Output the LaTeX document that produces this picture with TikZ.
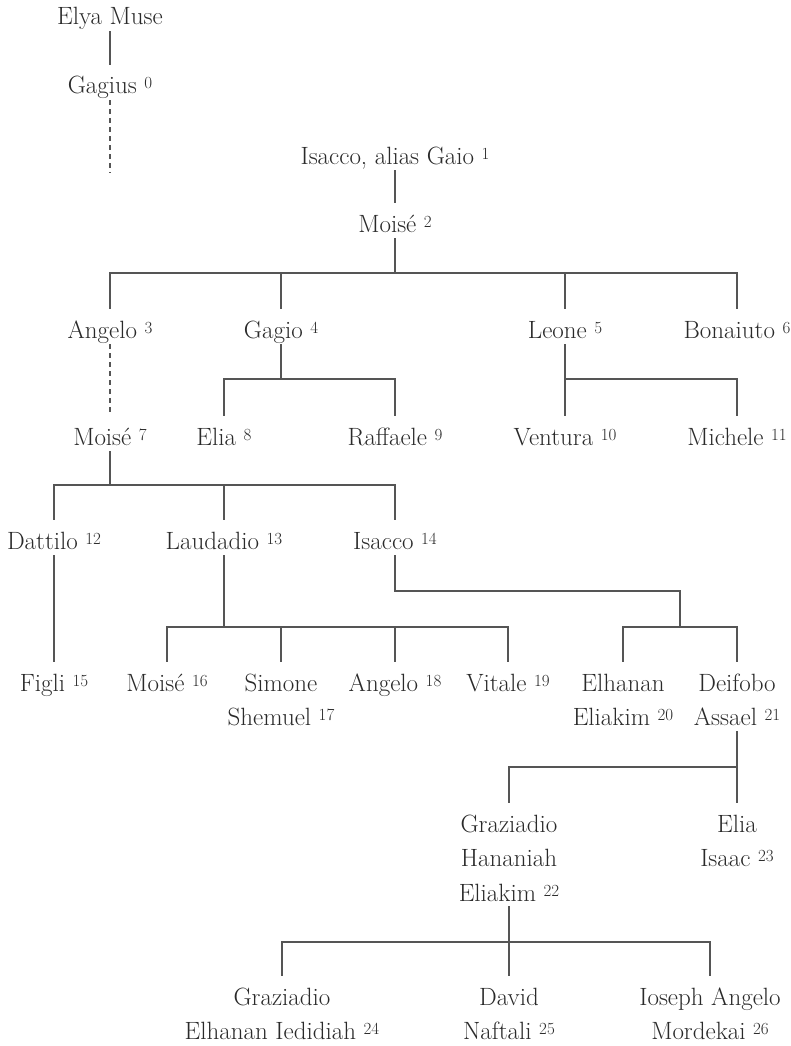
\documentclass[tikz,border=0pt]{standalone}
\usetikzlibrary{calc}
\definecolor{txt}{HTML}{2A2A2A}
\definecolor{ln}{HTML}{555555}
\newcommand\supn[1]{\ \raisebox{5pt}{\fontsize{17}{17}\selectfont #1}}
\newcommand\twol[2]{\begin{tabular}[t]{@{}c@{}}#1\\#2\end{tabular}}
\newcommand\threel[3]{\begin{tabular}[t]{@{}c@{}}#1\\#2\\#3\end{tabular}}
\tikzset{
  pn/.style={anchor=base, inner sep=0pt, text height=29pt, text depth=6pt,
    font=\fontsize{25}{34.5}\selectfont, text=txt},
  pn2/.style={pn, text depth=40pt},
  pn3/.style={pn, text depth=74pt},
  conn/.style={draw=ln, line width=1.1pt},
  dconn/.style={conn, dash pattern=on 5pt off 4pt},
}
\begin{document}
\begin{tikzpicture}[x=1pt,y=-1pt]
\useasboundingbox (0,0) rectangle (791,1046);
% generation nodes
\node[pn] (e0) at (110,25) {Elya Muse};
\node[pn] (g0) at (110,94) {Gagius\supn{0}};
\coordinate (d0) at (110,173);
\node[pn] (i1) at (395,164) {Isacco, alias Gaio\supn{1}};
\node[pn] (m2) at (395,232) {Moisé\supn{2}};
\node[pn] (p3) at (110,338) {Angelo\supn{3}};
\node[pn] (p4) at (281,338) {Gagio\supn{4}};
\node[pn] (p5) at (565,338) {Leone\supn{5}};
\node[pn] (p6) at (737,338) {Bonaiuto\supn{6}};
\node[pn] (m7) at (110,445) {Moisé\supn{7}};
\node[pn] (p8) at (224,445) {Elia\supn{8}};
\node[pn] (p9) at (395,445) {Raffaele\supn{9}};
\node[pn] (p10) at (565,445) {Ventura\supn{10}};
\node[pn] (p11) at (737,445) {Michele\supn{11}};
\node[pn] (p12) at (54,549) {Dattilo\supn{12}};
\node[pn] (p13) at (224,549) {Laudadio\supn{13}};
\node[pn] (p14) at (395,549) {Isacco\supn{14}};
\node[pn] (p15) at (54,691) {Figli\supn{15}};
\node[pn] (p16) at (167,691) {Moisé\supn{16}};
\node[pn2] (p17) at (281,691) {\twol{Simone}{Shemuel\supn{17}}};
\node[pn] (p18) at (395,691) {Angelo\supn{18}};
\node[pn] (p19) at (508,691) {Vitale\supn{19}};
\node[pn2] (p20) at (623,691) {\twol{Elhanan}{Eliakim\supn{20}}};
\node[pn2] (p21) at (737,691) {\twol{Deifobo}{Assael\supn{21}}};
\node[pn3] (p22) at (509,832) {\threel{Graziadio}{Hananiah}{Eliakim\supn{22}}};
\node[pn2] (p23) at (737,832) {\twol{Elia}{Isaac\supn{23}}};
\node[pn2] (p24) at (282,1005) {\twol{Graziadio}{Elhanan Iedidiah\supn{24}}};
\node[pn2] (p25) at (509,1005) {\twol{David}{Naftali\supn{25}}};
\node[pn2] (p26) at (710,1005) {\twol{Ioseph Angelo}{Mordekai\supn{26}}};
% junctions
\coordinate (j2) at (395,273);
\coordinate (j4) at (281,379);
\coordinate (j5) at (565,379);
\coordinate (j7) at (110,485);
\coordinate (j13) at (224,627);
\coordinate (k14) at (680,591);
\coordinate (j14) at (680,627);
\coordinate (j21) at (737,767);
\coordinate (j22) at (509,942);
% connectors
\draw[conn] (e0.south) -- (g0.north);
\draw[dconn] (g0.south) -- (d0);
\draw[conn] (i1.south) -- (m2.north);
\draw[conn] (m2.south) -- (j2);
\draw[conn] (p3.north) |- (j2) -| (p6.north);
\draw[conn] (p4.north) -- (p4.north |- j2);
\draw[conn] (p5.north) -- (p5.north |- j2);
\draw[dconn] (p3.south) -- (m7.north);
\draw[conn] (p4.south) -- (j4);
\draw[conn] (p8.north) |- (j4) -| (p9.north);
\draw[conn] (p5.south) -- (p10.north);
\draw[conn] (j5) -| (p11.north);
\draw[conn] (m7.south) -- (j7);
\draw[conn] (p12.north) |- (j7) -| (p14.north);
\draw[conn] (p13.north) -- (p13.north |- j7);
\draw[conn] (p12.south) -- (p15.north);
\draw[conn] (p13.south) -- (j13);
\draw[conn] (p16.north) |- (j13) -| (p19.north);
\draw[conn] (p17.north) -- (p17.north |- j13);
\draw[conn] (p18.north) -- (p18.north |- j13);
\draw[conn] (p14.south) |- (k14) -- (j14);
\draw[conn] (p20.north) |- (j14) -| (p21.north);
\draw[conn] (p21.south) -- (p23.north);
\draw[conn] (p22.north) |- (j21);
\draw[conn] (p22.south) -- (j22);
\draw[conn] (p24.north) |- (j22) -| (p26.north);
\draw[conn] (p25.north) -- (p25.north |- j22);
\end{tikzpicture}
\end{document}
